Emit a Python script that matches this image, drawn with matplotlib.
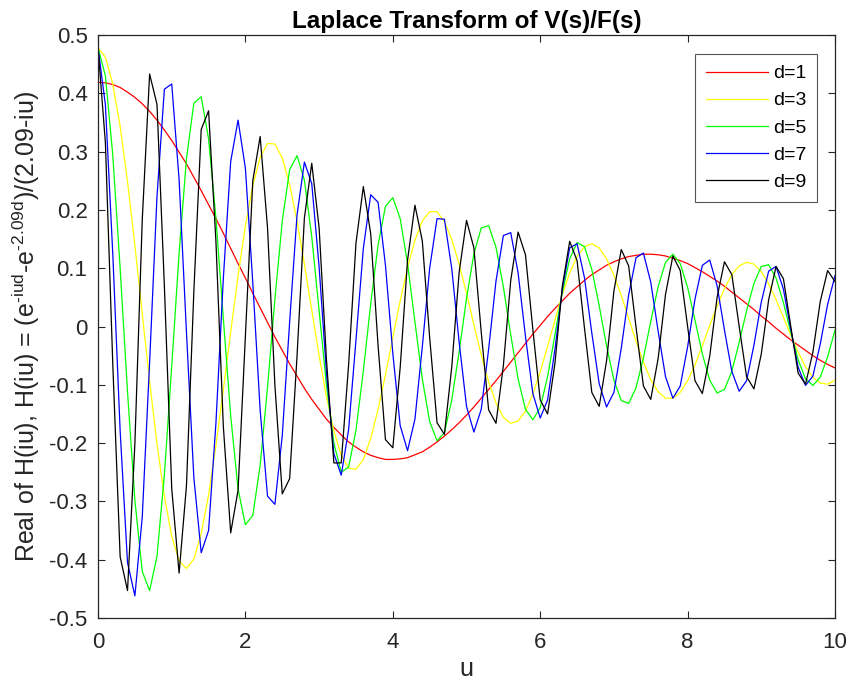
import matplotlib
matplotlib.use("Agg")
import matplotlib.pyplot as plt

plt.rcParams['font.family'] = ['Liberation Sans', 'DejaVu Sans']
plt.rcParams['axes.unicode_minus'] = False
plt.rcParams['mathtext.fontset'] = 'custom'
plt.rcParams['mathtext.rm'] = 'Liberation Sans'

# frequency u (sampled every 0.1)
u = [0.0, 0.1, 0.2, 0.3, 0.4, 0.5, 0.6, 0.7, 0.8, 0.9,
     1.0, 1.1, 1.2, 1.3, 1.4, 1.5, 1.6, 1.7, 1.8, 1.9,
     2.0, 2.1, 2.2, 2.3, 2.4, 2.5, 2.6, 2.7, 2.8, 2.9,
     3.0, 3.1, 3.2, 3.3, 3.4, 3.5, 3.6, 3.7, 3.8, 3.9,
     4.0, 4.1, 4.2, 4.3, 4.4, 4.5, 4.6, 4.7, 4.8, 4.9,
     5.0, 5.1, 5.2, 5.3, 5.4, 5.5, 5.6, 5.7, 5.8, 5.9,
     6.0, 6.1, 6.2, 6.3, 6.4, 6.5, 6.6, 6.7, 6.8, 6.9,
     7.0, 7.1, 7.2, 7.3, 7.4, 7.5, 7.6, 7.7, 7.8, 7.9,
     8.0, 8.1, 8.2, 8.3, 8.4, 8.5, 8.6, 8.7, 8.8, 8.9,
     9.0, 9.1, 9.2, 9.3, 9.4, 9.5, 9.6, 9.7, 9.8, 9.9,
     10.0]

re_d1 = [0.419, 0.418, 0.415, 0.410, 0.402, 0.393, 0.382, 0.369, 0.354, 0.337,
         0.319, 0.299, 0.279, 0.256, 0.233, 0.209, 0.185, 0.160, 0.134, 0.108,
         0.083, 0.057, 0.032, 0.007, -0.018, -0.041, -0.064, -0.085, -0.106, -0.125,
         -0.142, -0.159, -0.173, -0.186, -0.198, -0.207, -0.215, -0.221, -0.225, -0.228,
         -0.228, -0.227, -0.225, -0.220, -0.215, -0.207, -0.198, -0.188, -0.177, -0.165,
         -0.152, -0.138, -0.123, -0.108, -0.093, -0.077, -0.061, -0.045, -0.029, -0.013,
         0.002, 0.017, 0.031, 0.044, 0.057, 0.068, 0.079, 0.089, 0.097, 0.105,
         0.111, 0.116, 0.120, 0.122, 0.124, 0.124, 0.123, 0.121, 0.117, 0.113,
         0.108, 0.101, 0.094, 0.086, 0.078, 0.069, 0.059, 0.049, 0.039, 0.029,
         0.018, 0.008, -0.003, -0.013, -0.023, -0.032, -0.041, -0.050, -0.058, -0.065,
         -0.071]

re_d3 = [0.478, 0.462, 0.416, 0.343, 0.249, 0.139, 0.022, -0.094, -0.201, -0.291,
         -0.360, -0.402, -0.415, -0.399, -0.355, -0.289, -0.204, -0.109, -0.009, 0.087,
         0.173, 0.242, 0.290, 0.314, 0.313, 0.289, 0.243, 0.181, 0.107, 0.028,
         -0.050, -0.121, -0.179, -0.221, -0.243, -0.245, -0.228, -0.192, -0.142, -0.083,
         -0.019, 0.044, 0.101, 0.148, 0.181, 0.197, 0.197, 0.180, 0.149, 0.107,
         0.057, 0.003, -0.049, -0.095, -0.131, -0.156, -0.166, -0.162, -0.145, -0.116,
         -0.078, -0.034, 0.011, 0.055, 0.092, 0.120, 0.137, 0.142, 0.135, 0.116,
         0.088, 0.053, 0.014, -0.025, -0.061, -0.091, -0.112, -0.123, -0.123, -0.113,
         -0.093, -0.066, -0.033, 0.002, 0.035, 0.065, 0.089, 0.104, 0.110, 0.107,
         0.094, 0.073, 0.046, 0.016, -0.015, -0.044, -0.069, -0.087, -0.097, -0.099,
         -0.092]

re_d5 = [0.478, 0.430, 0.294, 0.100, -0.112, -0.298, -0.420, -0.453, -0.394, -0.255,
         -0.068, 0.126, 0.288, 0.383, 0.394, 0.322, 0.185, 0.014, -0.153, -0.279,
         -0.340, -0.324, -0.238, -0.104, 0.047, 0.181, 0.269, 0.293, 0.251, 0.154,
         0.027, -0.101, -0.200, -0.250, -0.241, -0.178, -0.076, 0.039, 0.140, 0.206,
         0.221, 0.185, 0.108, 0.008, -0.090, -0.163, -0.196, -0.182, -0.126, -0.043,
         0.048, 0.125, 0.169, 0.173, 0.136, 0.068, -0.014, -0.090, -0.142, -0.160,
         -0.139, -0.086, -0.014, 0.059, 0.116, 0.144, 0.137, 0.098, 0.036, -0.033,
         -0.092, -0.127, -0.132, -0.105, -0.054, 0.009, 0.068, 0.110, 0.124, 0.108,
         0.067, 0.011, -0.047, -0.092, -0.114, -0.108, -0.077, -0.027, 0.027, 0.074,
         0.103, 0.106, 0.083, 0.041, -0.010, -0.057, -0.090, -0.101, -0.087, -0.052,
         -0.006]

re_d7 = [0.478, 0.380, 0.125, -0.179, -0.405, -0.462, -0.327, -0.061, 0.223, 0.407,
         0.416, 0.252, -0.010, -0.259, -0.388, -0.350, -0.165, 0.082, 0.283, 0.354,
         0.271, 0.075, -0.144, -0.291, -0.305, -0.187, 0.008, 0.191, 0.282, 0.245,
         0.102, -0.080, -0.218, -0.255, -0.177, -0.023, 0.134, 0.226, 0.213, 0.105,
         -0.046, -0.170, -0.213, -0.159, -0.035, 0.100, 0.185, 0.184, 0.099, -0.027,
         -0.137, -0.181, -0.142, -0.039, 0.078, 0.156, 0.161, 0.092, -0.017, -0.115,
         -0.157, -0.126, -0.039, 0.064, 0.135, 0.142, 0.084, -0.011, -0.098, -0.138,
         -0.113, -0.037, 0.054, 0.118, 0.126, 0.076, -0.008, -0.086, -0.123, -0.102,
         -0.035, 0.047, 0.105, 0.114, 0.070, -0.006, -0.077, -0.111, -0.093, -0.032,
         0.042, 0.095, 0.103, 0.064, -0.005, -0.070, -0.101, -0.085, -0.030, 0.038,
         0.087]

re_d9 = [0.478, 0.315, -0.064, -0.395, -0.453, -0.201, 0.183, 0.433, 0.381, 0.070,
         -0.278, -0.423, -0.273, 0.060, 0.338, 0.370, 0.145, -0.171, -0.354, -0.281,
         -0.015, 0.250, 0.326, 0.169, -0.101, -0.287, -0.261, -0.051, 0.186, 0.280,
         0.169, -0.058, -0.234, -0.234, -0.066, 0.143, 0.240, 0.159, -0.033, -0.194,
         -0.208, -0.070, 0.114, 0.208, 0.147, -0.019, -0.165, -0.185, -0.069, 0.093,
         0.182, 0.135, -0.010, -0.143, -0.166, -0.067, 0.079, 0.162, 0.123, -0.005,
         -0.126, -0.150, -0.063, 0.069, 0.146, 0.113, -0.002, -0.113, -0.137, -0.059,
         0.061, 0.132, 0.104, -0.001, -0.102, -0.125, -0.055, 0.055, 0.121, 0.096,
         0.000, -0.093, -0.115, -0.051, 0.050, 0.111, 0.089, 0.000, -0.086, -0.107,
         -0.047, 0.046, 0.103, 0.082, 0.000, -0.080, -0.099, -0.044, 0.043, 0.096,
         0.077]

series = [re_d1, re_d3, re_d5, re_d7, re_d9]
labels = ['d=1', 'd=3', 'd=5', 'd=7', 'd=9']
colors = ['#ff0000', '#ffff00', '#00ff00', '#0000ff', '#000000']

fig = plt.figure(figsize=(8.51, 6.85), dpi=100)
ax = fig.add_axes([0.1152, 0.0978, 0.8660, 0.8511])

for vals, lab, col in zip(series, labels, colors):
    ax.plot(u, vals, color=col, lw=0.9, label=lab)

ax.set_xlim(0, 10)
ax.set_ylim(-0.5, 0.5)
ax.set_xticks([0, 2, 4, 6, 8, 10])
ax.set_yticks([-0.5, -0.4, -0.3, -0.2, -0.1, 0, 0.1, 0.2, 0.3, 0.4, 0.5])
ax.set_yticklabels(['-0.5', '-0.4', '-0.3', '-0.2', '-0.1', '0',
                    '0.1', '0.2', '0.3', '0.4', '0.5'])
dark = '#262626'
ax.tick_params(direction='in', length=5, width=0.8, colors=dark,
               labelsize=16, top=True, right=True)
ax.tick_params(axis='x', pad=10)
ax.tick_params(axis='y', pad=7.5)
for sp in ax.spines.values():
    sp.set_color(dark)
    sp.set_linewidth(0.9)

ax.set_title('Laplace Transform of V(s)/F(s)', fontsize=17.5,
             fontweight='bold', color='black', pad=5)
ax.set_xlabel('u', fontsize=18, color=dark, labelpad=3)
ax.set_ylabel(r'Real of H(iu), H(iu) = (e$^{\text{-iud}}$-e$^{\text{-2.09d}}$)/(2.09-iu)',
              fontsize=18, color=dark, labelpad=5)

leg = ax.legend(loc='upper right', bbox_to_anchor=(0.9756, 0.9674), fontsize=14,
                handlelength=3.2, handletextpad=0.25, labelspacing=0.49,
                borderpad=0.55, borderaxespad=0, fancybox=False, framealpha=1)
leg.get_frame().set_edgecolor('#555555')
leg.get_frame().set_linewidth(0.8)

fig.savefig('out.png', dpi=100)
